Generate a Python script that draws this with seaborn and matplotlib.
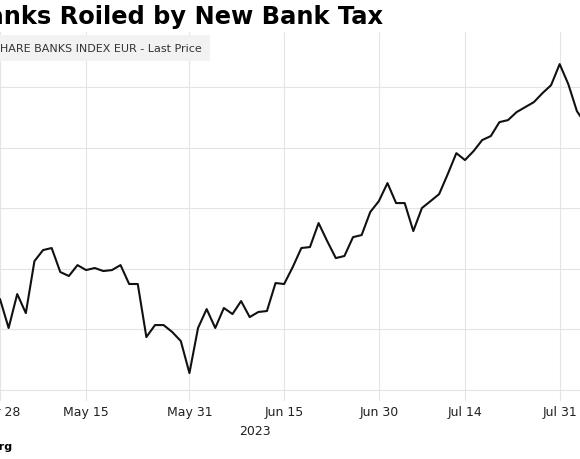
import numpy as np
import pandas as pd
import seaborn as sns
import matplotlib.pyplot as plt

# trading days (Italian market closed on May 1)
dates = pd.bdate_range('2023-04-28', '2023-08-03')
dates = dates[dates != pd.Timestamp('2023-05-01')]

prices = [11751, 11512, 11792, 11635, 12064, 12155, 12172, 11974, 11941, 12031,
          11990, 12007, 11982, 11990, 12031, 11875, 11875, 11437, 11536, 11536,
          11479, 11404, 11140, 11512, 11668, 11512, 11677, 11627, 11734, 11602,
          11644, 11652, 11883, 11875, 12015, 12172, 12180, 12378, 12229, 12089,
          12106, 12262, 12279, 12469, 12559, 12708, 12543, 12543, 12312, 12502,
          12559, 12617, 12782, 12955, 12898, 12972, 13063, 13096, 13211, 13228,
          13294, 13335, 13376, 13450, 13516, 13690, 13525, 13302, 13195]

tick_dates = ['2023-04-28', '2023-05-15', '2023-05-31', '2023-06-15',
              '2023-06-30', '2023-07-14', '2023-07-31']
tick_labels = ['Apr 28', 'May 15', 'May 31', 'Jun 15', 'Jun 30', 'Jul 14', 'Jul 31']
y_grid = [11000, 11500, 12000, 12500, 13000, 13500]

title = 'Banks Roiled by New Bank Tax'
legend_label = 'FTSE ITALIA ALL-SHARE BANKS INDEX EUR - Last Price'

sns.set_style('white')
plt.rcParams['font.family'] = ['DejaVu Sans']

fig = plt.figure(figsize=(5.8, 4.6), dpi=100)
ax = fig.add_axes([0, 0.126, 1, 0.802])

x = np.arange(len(dates))
sns.lineplot(x=x, y=prices, color='#111111', lw=1.5, ax=ax)

ax.set_xlim(0.54, 67.36)
ax.set_ylim(10909, 13954)

pos = dates.get_indexer(pd.to_datetime(tick_dates))
ax.set_xticks(pos)
ax.set_xticklabels(tick_labels, fontsize=9, color='#222222')
ax.set_yticks(y_grid)
ax.tick_params(axis='y', labelleft=False, length=0)
ax.tick_params(axis='x', length=0, pad=3)
ax.grid(True, color='#e4e4e4', lw=0.8)
for s in ax.spines.values():
    s.set_visible(False)

fig.text(255 / 580, 1 - 432 / 460, '2023', fontsize=9, color='#222222',
         ha='center', va='center')
fig.text(383 / 580, 1 - 17 / 460, title, fontsize=17.4, fontweight='bold',
         ha='right', va='center', color='black')
fig.text(202 / 580, 1 - 49 / 460, legend_label, fontsize=8, color='#333333',
         ha='right', va='center',
         bbox=dict(boxstyle='square,pad=0.75', fc='#f2f2f2', ec='none'))
fig.text(12 / 580, 1 - 447 / 460, 'Source: Bloomberg', fontsize=8,
         fontweight='bold', ha='right', va='center', color='black')

fig.savefig('out.png', dpi=100)
